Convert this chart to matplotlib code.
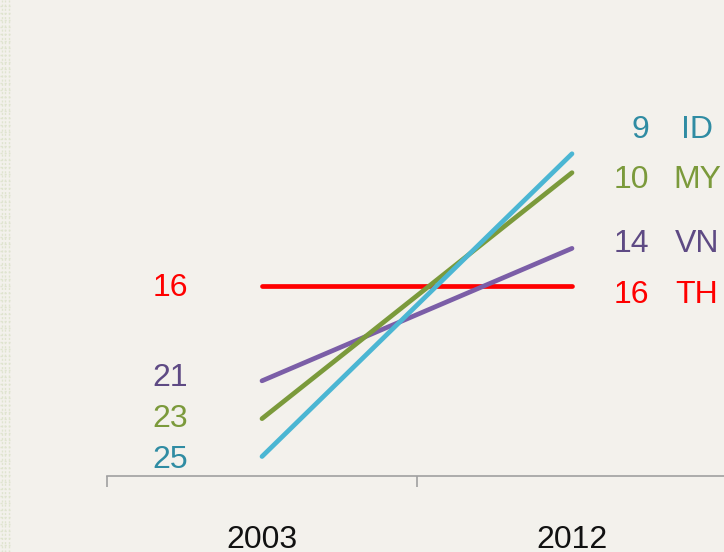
import matplotlib
matplotlib.use("Agg")
import matplotlib.pyplot as plt
from matplotlib.lines import Line2D

years = ["2003", "2012"]
countries = ["TH", "VN", "MY", "ID"]
rank_2003 = [16, 21, 23, 25]
rank_2012 = [16, 14, 10, 9]
line_colors = ["#ff0000", "#7b5ea7", "#7b9a3b", "#4bb6d3"]
text_colors = ["#ff0000", "#5e4a84", "#7b9a3b", "#2f8ca3"]
# label positions (rank units), spread to avoid overlap
right_label_pos = [16.47, 13.78, 10.4, 7.72]
left_label_pos = [16.1, 20.85, 23.0, 25.2]

BG = "#f3f1ec"
plt.rcParams['font.family'] = ['Liberation Sans', 'DejaVu Sans']

fig = plt.figure(figsize=(7.24, 5.52), dpi=100)
fig.patch.set_facecolor(BG)

# decorative plaid strip on the left edge
for yy in range(0, 552, 7):
    fig.add_artist(Line2D([0, 10/724], [yy/552, yy/552], color="#dfe4cf", lw=1.0,
                          transform=fig.transFigure, linestyle=(0, (1.5, 1.5))))
for xx in [1.5, 5, 8.5]:
    fig.add_artist(Line2D([xx/724, xx/724], [0, 1], color="#dfe4cf", lw=1.0,
                          transform=fig.transFigure, linestyle=(0, (1.5, 1.5))))

ax = fig.add_axes([107/724, 1 - 476/552, 620/724, 476/552])
ax.set_facecolor(BG)

xs = [1, 2]
for i, c in enumerate(countries):
    ax.plot(xs, [rank_2003[i], rank_2012[i]], color=line_colors[i], lw=3.4,
            solid_capstyle="round", zorder=2 + i)

fs = 23
for i, c in enumerate(countries):
    ax.text(0.703, left_label_pos[i], str(rank_2003[i]), color=text_colors[i],
            fontsize=fs, ha="center", va="center")
    ax.text(2.25, right_label_pos[i], str(rank_2012[i]), color=text_colors[i],
            fontsize=fs, ha="right", va="center")
    ax.text(2.403, right_label_pos[i], c, color=text_colors[i],
            fontsize=fs, ha="center", va="center")

ax.set_xlim(0.5, 2.5)
ax.set_ylim(26.03, 0.874)

for s in ["top", "right", "left"]:
    ax.spines[s].set_visible(False)
ax.spines["bottom"].set_color("#a0a0a0")
ax.spines["bottom"].set_linewidth(1.2)

ax.set_yticks([])
ax.set_xticks([0.5, 1.5, 2.5])
ax.set_xticklabels([])
ax.tick_params(axis="x", direction="out", length=8, width=1.2, color="#a0a0a0")
ax.set_xticks([1, 2], minor=True)
ax.set_xticklabels(years, minor=True, fontsize=fs, color="#111111")
ax.tick_params(axis="x", which="minor", length=0, pad=35)

fig.savefig("out.png", dpi=100, facecolor=BG)
